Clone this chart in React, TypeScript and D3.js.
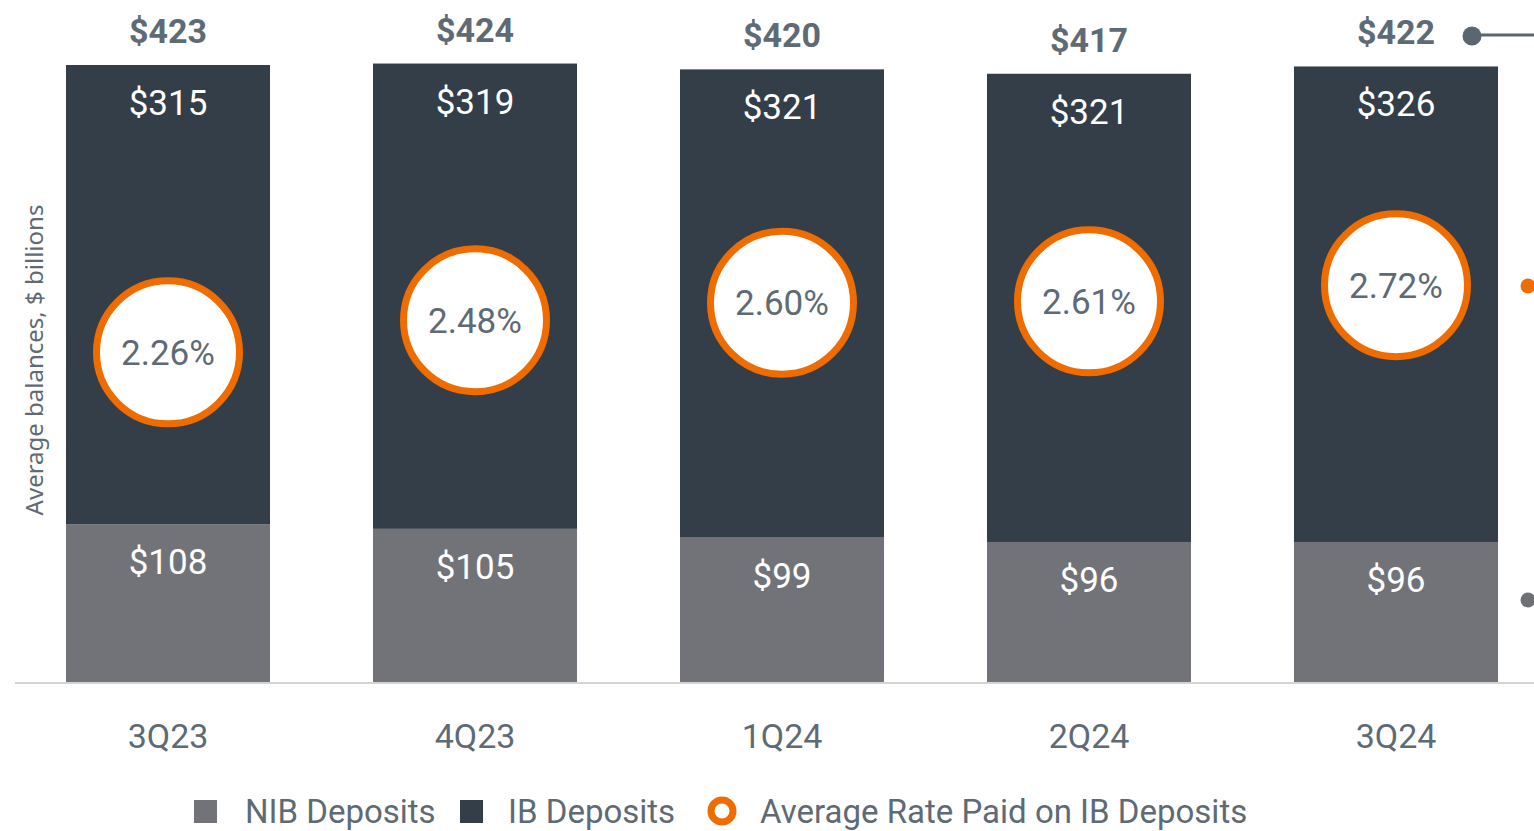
import React from "react";
import * as d3 from "d3";

const categories = ["3Q23", "4Q23", "1Q24", "2Q24", "3Q24"];
const nibDeposits = [108, 105, 99, 96, 96];
const ibDeposits = [315, 319, 321, 321, 326];
const totals = [423, 424, 420, 417, 422];
const avgRate = [2.26, 2.48, 2.6, 2.61, 2.72];
const legendItems = ["NIB Deposits", "IB Deposits", "Average Rate Paid on IB Deposits"];

const W = 1534;
const H = 831;
const NIB_COLOR = "#727379";
const IB_COLOR = "#333e48";
const ORANGE = "#ef6c00";
const TEXT = "#5e6a74";
const FONT = "Roboto, 'DejaVu Sans', sans-serif";

export default function App() {
  const x = d3
    .scaleBand<string>()
    .domain(categories)
    .range([14.5, 14.5 + 5 * 307])
    .paddingInner(103 / 307)
    .paddingOuter(103 / 307 / 2);
  const y = d3.scaleLinear().domain([0, 423]).range([682, 65]);
  const bw = x.bandwidth();

  return (
    <svg
      width={W}
      height={H}
      style={{ position: "absolute", left: 0, top: 0, background: "#fff" }}
      fontFamily={FONT}
    >
      {/* right-edge partial annotations */}
      <line x1={1472} x2={W} y1={35} y2={35} stroke="#5a6670" strokeWidth={3} />
      <circle cx={1472} cy={36} r={9.5} fill="#5a6670" />
      <circle cx={1528} cy={286} r={7.5} fill={ORANGE} />
      <circle cx={1528} cy={600} r={7.5} fill="#6d7176" />

      {categories.map((c, i) => {
        const x0 = x(c)!;
        const cx = x0 + bw / 2;
        const nibTop = y(nibDeposits[i]);
        const totTop = y(nibDeposits[i] + ibDeposits[i]);
        const rateY = y(avgRate[i] * 100);
        return (
          <g key={c}>
            <rect x={x0} y={nibTop} width={bw} height={y(0) - nibTop} fill={NIB_COLOR} />
            <rect x={x0} y={totTop} width={bw} height={nibTop - totTop} fill={IB_COLOR} />
            <text
              x={cx}
              y={totTop - 22}
              textAnchor="middle"
              fontSize={34}
              fontWeight={700}
              fill={TEXT}
            >
              ${totals[i]}
            </text>
            <text x={cx} y={totTop + 50} textAnchor="middle" fontSize={35} fill="#fff">
              ${ibDeposits[i]}
            </text>
            <text x={cx} y={nibTop + 50} textAnchor="middle" fontSize={35} fill="#fff">
              ${nibDeposits[i]}
            </text>
            <circle cx={cx} cy={rateY} r={71.5} fill="#fff" stroke={ORANGE} strokeWidth={7} />
            <text
              x={cx}
              y={rateY}
              dy="0.35em"
              textAnchor="middle"
              fontSize={35}
              fill={TEXT}
            >
              {avgRate[i].toFixed(2)}%
            </text>
            <text x={cx} y={748} textAnchor="middle" fontSize={34} fill={TEXT}>
              {c}
            </text>
          </g>
        );
      })}

      <line x1={15} x2={W} y1={683} y2={683} stroke="#d4d4d4" strokeWidth={2} />

      <text
        transform="translate(43,360) rotate(-90)"
        textAnchor="middle"
        fontSize={24}
        fontFamily="'Noto Sans', 'Open Sans', sans-serif"
        fill={TEXT}
      >
        Average balances, $ billions
      </text>

      {/* legend */}
      <rect x={194} y={800} width={23} height={23} fill={NIB_COLOR} />
      <text x={245} y={823} fontSize={33} fill={TEXT}>
        {legendItems[0]}
      </text>
      <rect x={460} y={800} width={23} height={23} fill={IB_COLOR} />
      <text x={508} y={823} fontSize={33} fill={TEXT}>
        {legendItems[1]}
      </text>
      <circle cx={722} cy={811} r={11} fill="#fff" stroke={ORANGE} strokeWidth={7} />
      <text x={760} y={823} fontSize={33} fill={TEXT}>
        {legendItems[2]}
      </text>
    </svg>
  );
}
